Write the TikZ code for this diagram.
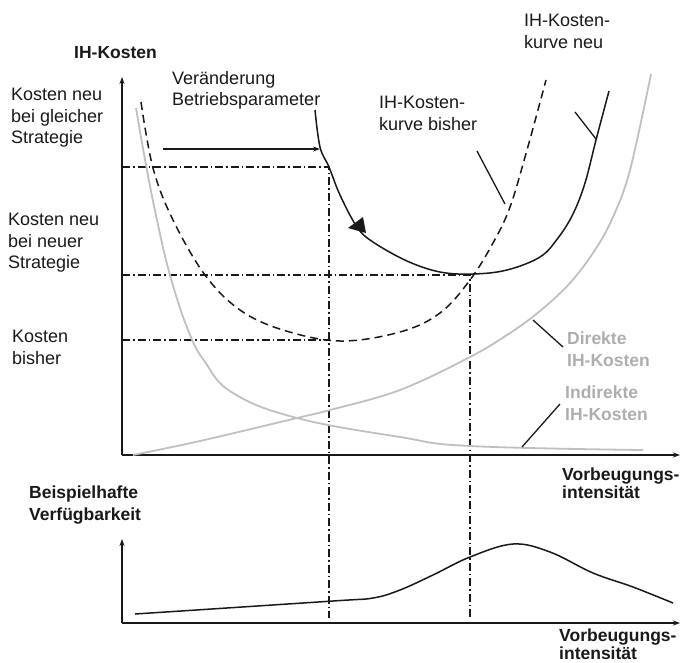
\documentclass[tikz,border=0pt]{standalone}
\usepackage{fontspec}
\setmainfont{Liberation Sans}
\usetikzlibrary{arrows.meta}
\definecolor{grau}{RGB}{192,192,192}
\definecolor{grautext}{RGB}{174,174,178}
\definecolor{dunkel}{RGB}{25,25,25}

\tikzset{
  achse/.style={draw=dunkel,line width=1.6pt,-{Stealth[length=7pt,width=5pt]}},
  kurve/.style={draw=dunkel,line width=1.5pt},
  kurvealt/.style={draw=dunkel,line width=1.5pt,dash pattern=on 8pt off 5pt},
  kurvegrau/.style={draw=grau,line width=1.8pt},
  hilfslinie/.style={draw=dunkel,line width=1.3pt,dash pattern=on 8pt off 3pt on 1.5pt off 3pt},
  fuehrung/.style={draw=dunkel,line width=1.3pt},
  txt/.style={font=\fontsize{18}{21.5}\selectfont,text=dunkel,inner sep=0pt,align=left},
  txtfett/.style={font=\bfseries\fontsize{17.5}{22}\selectfont,text=dunkel,inner sep=0pt,align=left}
}

\begin{document}
\begin{tikzpicture}[x=1pt,y=-1pt]
\useasboundingbox (0,0) rectangle (683,662);

% achsen
\coordinate (O) at (122,455);
\coordinate (U) at (122,623);
\draw[achse] (O) -- (122,77);
\draw[achse] (O) -- (680,455);
\draw[achse] (U) -- (122,539);
\draw[achse] (U) -- (680,623);

% punkte auf den kurven
\coordinate (neuA) at (329,167);
\coordinate (neuMin) at (470,275);
\coordinate (altMin) at (330,340);
\coordinate (neuAu) at (329,618);
\coordinate (neuMinu) at (470,619);

% hilfslinien
\draw[hilfslinie] (O |- neuA) -- (neuA) -- (neuAu);
\draw[hilfslinie] (O |- neuMin) -- (neuMin) -- (neuMinu);
\draw[hilfslinie] (O |- altMin) -- (altMin);

% graue kurven
\draw[kurvegrau] plot[smooth,tension=0.7] coordinates {(136,108) (146,165) (157,220) (170,275) (188,330) (205,362) (233,393) (297,418) (400,437) (470,446) (643,450)};
\draw[kurvegrau] plot[smooth,tension=0.6] coordinates {(133,455) (200,441) (297,418) (330,410) (400,390) (470,357) (510,333) (540,311) (570,283) (595,250) (613,217) (630,170) (651,74)};

% ih-kosten kurven
\draw[kurvealt] plot[smooth,tension=0.6] coordinates {(141,102) (153,168) (173,220) (205,275) (240,310) (283,330) (340,341) (400,332) (440,313) (470,280) (493,243) (510,207) (527,150) (546,80)};
\draw[kurve] plot[smooth,tension=0.6] coordinates {(315,110) (320,147) (329,167) (340,195) (357,227) (373,242) (407,261) (440,272) (473,274) (507,270) (540,257) (558,238) (573,214) (585,183) (596,140) (609,91)};
\fill[dunkel] (348,228) -- (363,217) -- (366,233) -- cycle;

% verfuegbarkeit
\draw[kurve] plot[smooth,tension=0.6] coordinates {(135,614) (333,601) (373,598) (400,590) (433,575) (470,557) (513,544) (550,552) (593,573) (633,587) (673,603)};

% texte
\node[txtfett,anchor=west] (ihk) at (74,53) {IH-Kosten};
\node[txt,anchor=north west] (kgleich) at (11,88) {Kosten neu\\bei gleicher\\Strategie};
\node[txt,anchor=north west] (kneu) at (8,213) {Kosten neu\\bei neuer\\Strategie};
\node[txt,anchor=north west] (kbisher) at (12,330) {Kosten\\bisher};
\node[txt,anchor=north west] (veraend) at (172,71) {Veränderung\\Betriebsparameter};
\node[txt,anchor=north west] (kneutxt) at (524,14) {IH-Kosten-\\kurve neu};
\node[txt,anchor=north west] (kalttxt) at (379,96) {IH-Kosten-\\kurve bisher};
\node[txtfett,text=grautext,anchor=north west] (direkt) at (567,332) {Direkte\\IH-Kosten};
\node[txtfett,text=grautext,anchor=north west] (indirekt) at (565,386) {Indirekte\\IH-Kosten};
\node[txtfett,font=\bfseries\fontsize{17.5}{16}\selectfont,anchor=north west] (vorb1) at (562,468) {Vorbeugungs-\\intensität};
\node[txtfett,font=\bfseries\fontsize{17.5}{15.5}\selectfont,anchor=north west] (vorb2) at (559,629) {Vorbeugungs-\\intensität};
\node[txtfett,anchor=north west] (verfueg) at (29,486) {Beispielhafte\\Verfügbarkeit};

% pfeil und fuehrungslinien
\coordinate (pfA) at (163,149);
\coordinate (pfB) at (320,149);
\draw[achse] (pfA) -- (pfB);
\coordinate (fneuA) at (575,112);
\coordinate (fneuB) at (596,139);
\draw[fuehrung] (fneuA) -- (fneuB);
\coordinate (faltA) at (477,151);
\coordinate (faltB) at (505,204);
\draw[fuehrung] (faltA) -- (faltB);
\coordinate (fdirA) at (533,320);
\coordinate (fdirB) at (563,347);
\draw[fuehrung] (fdirA) -- (fdirB);
\coordinate (findA) at (560,404);
\coordinate (findB) at (522,447);
\draw[fuehrung] (findA) -- (findB);

\end{tikzpicture}
\end{document}
